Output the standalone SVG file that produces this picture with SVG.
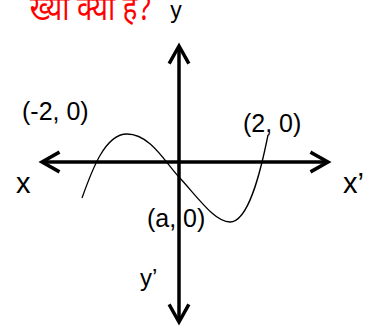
<svg xmlns="http://www.w3.org/2000/svg" width="380" height="328" viewBox="0 0 380 328">
<style>
.lbl{font-family:"Liberation Sans",Arial,sans-serif;fill:#000}
.axis{stroke:#000;stroke-width:3.5;fill:none}
.head{stroke:#000;stroke-width:3.5;fill:none;stroke-linecap:square}
</style>
<rect width="380" height="328" fill="#fff"/>
<text transform="translate(152,20) scale(0.8,1)" x="0" y="0" text-anchor="end" font-family="'Noto Sans Devanagari','Noto Sans',sans-serif" font-size="35" fill="#ff0000">ख्या क्या है?</text>
<g id="connectors">
<line class="axis" x1="179" y1="46" x2="179" y2="322"/>
<polyline class="head" points="170,62 179,46 188,62"/>
<polyline class="head" points="170,306 179,322 188,306"/>
<line class="axis" x1="42" y1="162" x2="328" y2="162"/>
<polyline class="head" points="58,153 42,162 58,171"/>
<polyline class="head" points="312,153 328,162 312,171"/>
<path d="M82,198 C92,170 105,134 127,134 C150,134 165,162 179,177 C200,200 215,222 230,222 C248,222 260,175 268,135" fill="none" stroke="#000" stroke-width="1.3"/>
</g>
<g id="labels">
<text class="lbl" x="176" y="18" font-size="23" text-anchor="middle">y</text>
<text class="lbl" x="22" y="120" font-size="25">(-2, 0)</text>
<text class="lbl" x="243" y="132" font-size="25">(2, 0)</text>
<text class="lbl" x="16" y="193" font-size="29">x</text>
<text class="lbl" x="343" y="193" font-size="29">x’</text>
<text class="lbl" x="147" y="227" font-size="25">(a, 0)</text>
<text class="lbl" x="140" y="286" font-size="24">y’</text>
</g>
</svg>
